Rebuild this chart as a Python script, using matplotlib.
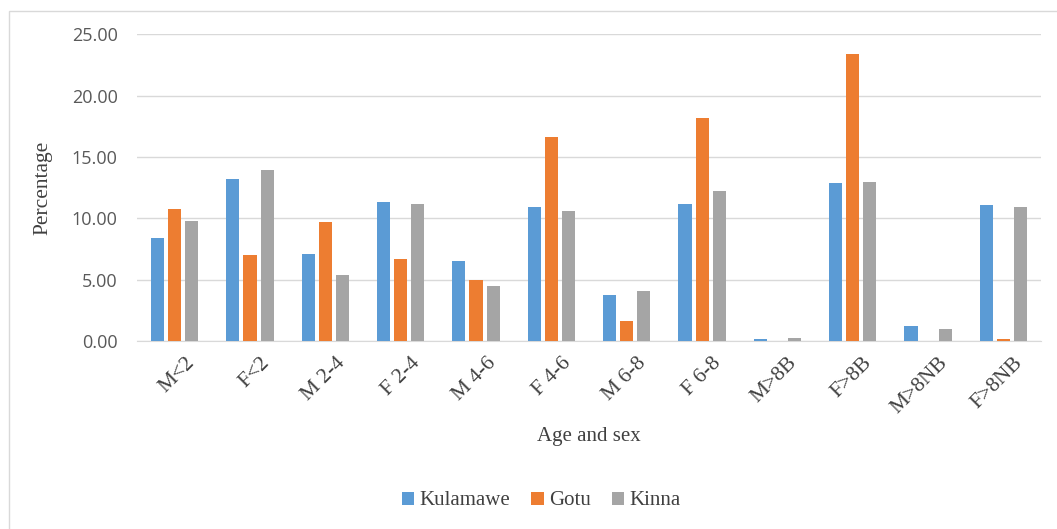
import numpy as np
import matplotlib.pyplot as plt
from matplotlib.patches import Rectangle
from matplotlib.transforms import ScaledTranslation

categories = ["M<2", "F<2", "M 2-4", "F 2-4", "M 4-6", "F 4-6", "M 6-8", "F 6-8",
              "M>8B", "F>8B", "M>8NB", "F>8NB"]
kulamawe = [8.40, 13.20, 7.10, 11.30, 6.50, 10.95, 3.75, 11.15, 0.20, 12.85, 1.25, 11.05]
gotu = [10.75, 7.00, 9.70, 6.70, 4.95, 16.65, 1.65, 18.15, 0.00, 23.40, 0.00, 0.20]
kinna = [9.80, 13.90, 5.40, 11.15, 4.45, 10.60, 4.10, 12.25, 0.25, 12.95, 1.00, 10.95]

series = [("Kulamawe", kulamawe, "#5B9BD5"),
          ("Gotu", gotu, "#ED7D31"),
          ("Kinna", kinna, "#A5A5A5")]

fig = plt.figure(figsize=(10.57, 5.29), dpi=100)
ax = fig.add_axes([0.1296, 0.3554, 0.8553, 0.5798])

# outer chart frame (right and bottom edges fall outside the image)
fig.patches.append(Rectangle((0.0085, -0.05), 1.05, 1.029, transform=fig.transFigure,
                             fill=False, edgecolor="#d9d9d9", linewidth=1.0))

x = np.arange(len(categories))
width = 0.173
step = 0.226
for i, (name, vals, col) in enumerate(series):
    ax.bar(x + (i - 1) * step, vals, width, color=col, label=name, zorder=3)

ax.set_xlim(-0.5, len(categories) - 0.5)
ax.set_ylim(0, 25)
ax.set_yticks(np.arange(0, 26, 5))
ax.set_yticklabels(["%.2f" % v for v in np.arange(0, 26, 5)],
                   fontfamily="Open Sans", fontsize=13, color="#595959")
ax.yaxis.grid(True, color="#d9d9d9", linewidth=1.0, zorder=0)
ax.tick_params(axis="both", length=0)
ax.tick_params(axis="y", pad=14)
for s in ["top", "right", "left"]:
    ax.spines[s].set_visible(False)
ax.spines["bottom"].set_color("#d9d9d9")

ax.set_xticks(x)
ax.set_xticklabels(categories, rotation=45, ha="right", va="top",
                   rotation_mode="anchor", fontfamily="Liberation Serif",
                   fontsize=15.5, color="#404040")
ax.tick_params(axis="x", pad=9)
# nudge the slanted labels right, like the original
shift = ScaledTranslation(10 / 100, 0, fig.dpi_scale_trans)
for lab in ax.get_xticklabels():
    lab.set_transform(lab.get_transform() + shift)

ax.set_xlabel("Age and sex", fontfamily="Liberation Serif", fontsize=15, color="#404040")
ax.set_ylabel("Percentage", fontfamily="Liberation Serif", fontsize=15.5, color="#404040")
ax.xaxis.set_label_coords(0.5, -0.28)
ax.yaxis.set_label_coords(-0.094, 0.5)

leg = fig.legend(loc="center", bbox_to_anchor=(0.512, 0.053), ncol=3, frameon=False,
                 prop={"family": "Liberation Serif", "size": 15},
                 handlelength=0.6, handleheight=0.6, handletextpad=0.25, columnspacing=1.0)
for t in leg.get_texts():
    t.set_color("#404040")

fig.savefig("out.png", dpi=100)
